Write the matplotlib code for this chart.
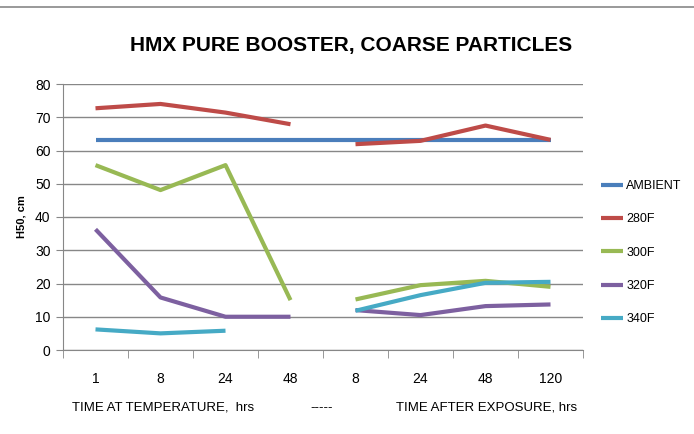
import matplotlib
matplotlib.use('Agg')
import matplotlib.pyplot as plt
import numpy as np

################## data ################################################

hours = ['1', '8', '24', '48', '8', '24', '48', '120']
series = ['AMBIENT', '280F', '300F', '320F', '340F']

ambient = [63.2, 63.2, 63.2, 63.2, 63.2, 63.2, 63.2, 63.2]
f280 = [72.7, 74.0, 71.4, 67.9, 61.9, 62.9, 67.5, 63.2]
f300 = [55.6, 48.1, 55.6, 15.0, 15.2, 19.5, 20.8, 19.0]
f320 = [36.3, 15.8, 10.0, 10.0, 12.0, 10.5, 13.2, 13.7]
f340 = [6.2, 5.0, 5.8, np.nan, 11.8, 16.5, 20.2, 20.5]

colors = ['#4A7EBB', '#BE4B48', '#98B954', '#7D60A0', '#46AAC5']

################## plot ###################################################

plt.rcParams['font.family'] = ['Liberation Sans', 'DejaVu Sans']

fig = plt.figure(figsize=(6.94, 4.34), dpi=100)
ax = fig.add_axes([63/694, 1 - 350/434, (583-63)/694, (350-84)/434])

x = np.arange(len(hours))
for name, vals, c in zip(series, [ambient, f280, f300, f320, f340], colors):
    if name == 'AMBIENT':
        ax.plot(x, vals, color=c, lw=3, label=name, solid_capstyle='butt')
    else:
        ax.plot(x[:4], vals[:4], color=c, lw=3, label=name, solid_capstyle='butt')
        ax.plot(x[4:], vals[4:], color=c, lw=3, solid_capstyle='butt')

ax.set_xlim(-0.5, 7.5)
ax.set_ylim(0, 80)
ax.set_yticks(range(0, 81, 10))
ax.set_xticks(x)
ax.set_xticklabels(hours, fontsize=10)
ax.set_xticks(np.arange(-0.5, 8, 1), minor=True)
ax.tick_params(axis='x', which='major', length=0, pad=16)
ax.tick_params(axis='x', which='minor', length=6, color='#878787')
ax.tick_params(axis='y', length=5, color='#878787', labelsize=10, pad=4)
ax.grid(axis='y', color='#878787', lw=1)
ax.set_axisbelow(True)
for s in ['top', 'right']:
    ax.spines[s].set_visible(False)
for s in ['left', 'bottom']:
    ax.spines[s].set_color('#878787')

ax.set_ylabel('H50, cm', fontsize=8, fontweight='bold', labelpad=6)

fig.text(351/694, 1 - 45/434, 'HMX PURE BOOSTER, COARSE PARTICLES',
         ha='center', va='center', fontsize=15, fontweight='bold')
fig.text(163/694, 1 - 408/434, 'TIME AT TEMPERATURE,  hrs', ha='center', va='center', fontsize=9.5)
fig.text(322/694, 1 - 408/434, '-----', ha='center', va='center', fontsize=9.5)
fig.text(487/694, 1 - 408/434, 'TIME AFTER EXPOSURE, hrs', ha='center', va='center', fontsize=9.5)

leg = fig.legend(loc='upper left', bbox_to_anchor=(590/694, 1 - 169/434), frameon=False,
                 fontsize=9, handlelength=1.7, labelspacing=1.7, handletextpad=0.3)

fig.add_artist(plt.Line2D([0, 1], [1 - 7/434, 1 - 7/434], color='#888888', lw=1.2))

fig.savefig('out.png', dpi=100)
